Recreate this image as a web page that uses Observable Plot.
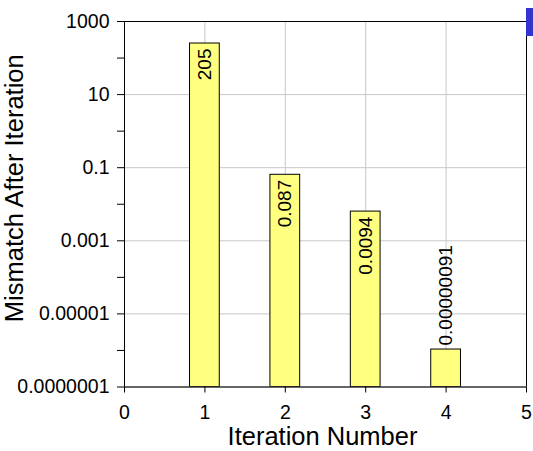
<!DOCTYPE html>
<html>
<head>
<meta charset="utf-8">
<script src="https://cdn.jsdelivr.net/npm/d3@7"></script>
<script src="https://cdn.jsdelivr.net/npm/@observablehq/plot@0.6"></script>
<style>
  html, body { margin: 0; padding: 0; background: #fff; }
  #wrap { position: relative; width: 533px; height: 451px; }
  #corner { position: absolute; left: 526px; top: 8px; width: 7px; height: 28px; background: #3434d0; }
</style>
</head>
<body>
<div id="wrap"><div id="corner"></div></div>
<script>
const iterations = [1, 2, 3, 4];
// bar heights as drawn in the picture
const barHeights = [250, 0.064, 0.0063, 0.00000106];
// printed value labels
const barLabels = ["205", "0.087", "0.0094", "0.00000091"];
const xTicks = [0, 1, 2, 3, 4, 5];
const yMajorTicks = [1000, 10, 0.1, 0.001, 0.00001, 0.0000001];
const yTickLabels = ["1000", "10", "0.1", "0.001", "0.00001", "0.0000001"];
const yMinorTicks = [100, 1, 0.01, 0.0001, 0.000001];
const xTitle = "Iteration Number";
const yTitle = "Mismatch After Iteration";

const data = iterations.map((it, i) => ({iter: it, value: barHeights[i], label: barLabels[i]}));
const half = 0.185;
const inside = data.slice(0, 3);
const outside = data.slice(3);

const chart = Plot.plot({
  width: 533,
  height: 451,
  marginLeft: 124,
  marginRight: 7,
  marginTop: 21,
  marginBottom: 64.5,
  style: {fontFamily: "'Liberation Sans', Arial, sans-serif", fontSize: "19.5px", color: "#000", background: "#fff"},
  x: {domain: [0, 5], label: null},
  y: {type: "log", domain: [0.0000001, 1000], label: null},
  marks: [
    Plot.gridX(xTicks.slice(1, 5), {stroke: "#c8c8c8", strokeOpacity: 1}),
    Plot.gridY(yMajorTicks.slice(1, 5), {stroke: "#c8c8c8", strokeOpacity: 1}),
    Plot.rect(data, {
      x1: d => d.iter - half, x2: d => d.iter + half,
      y1: 0.0000001, y2: "value",
      fill: "#ffff80", stroke: "#000", strokeWidth: 1
    }),
    Plot.ruleY([1000], {stroke: "#000"}),
    Plot.ruleY([0.0000001], {stroke: "#333", strokeWidth: 1.5}),
    Plot.ruleX([5], {stroke: "#000"}),
    Plot.ruleX([0], {stroke: "#000"}),
    Plot.axisY(yMajorTicks, {tickSize: 7, tickPadding: 8, label: null,
      tickFormat: d => yTickLabels[yMajorTicks.indexOf(d)]}),
    Plot.axisY(yMinorTicks, {tickSize: 7, label: null, tickFormat: () => ""}),
    Plot.axisX(xTicks, {tickSize: 6, tickPadding: 12, label: null, tickFormat: d => String(d)}),
    Plot.text(inside, {x: "iter", y: "value", text: "label", rotate: -90,
      textAnchor: "end", dy: 5, fontSize: 19}),
    Plot.text(outside, {x: "iter", y: "value", text: "label", rotate: -90,
      textAnchor: "start", dy: -4, fontSize: 19}),
    Plot.text([yTitle], {frameAnchor: "left", text: d => d, rotate: -90, dx: -102, dy: -16,
      textAnchor: "middle", lineAnchor: "bottom", fontSize: 25.5}),
    Plot.text([xTitle], {frameAnchor: "bottom", text: d => d, dx: -3, dy: 57.5,
      textAnchor: "middle", lineAnchor: "bottom", fontSize: 25.5})
  ]
});
document.getElementById("wrap").insertBefore(chart, document.getElementById("corner"));
</script>
</body>
</html>
